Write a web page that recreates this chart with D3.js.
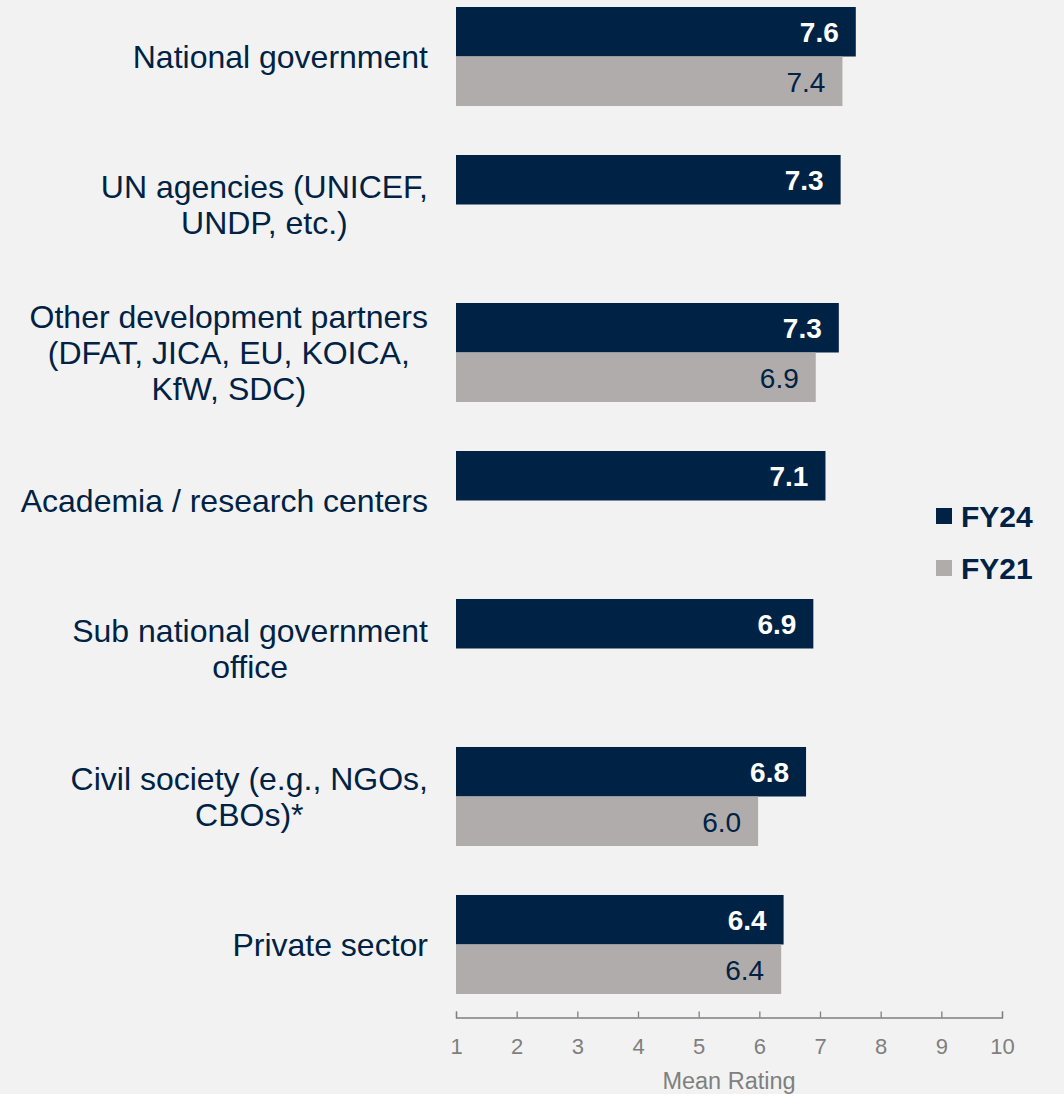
<!DOCTYPE html>
<html>
<head>
<meta charset="utf-8">
<script src="https://cdn.jsdelivr.net/npm/d3@7"></script>
<style>
    body { margin: 0; background: #f2f2f2; }
    svg { display: block; font-family: "Liberation Sans", Arial, sans-serif; }
</style>
</head>
<body>
<script>
//chart data
var categories = [
    "National government",
    "UN agencies (UNICEF,\nUNDP, etc.)",
    "Other development partners\n(DFAT, JICA, EU, KOICA,\nKfW, SDC)",
    "Academia / research centers",
    "Sub national government\noffice",
    "Civil society (e.g., NGOs,\nCBOs)*",
    "Private sector"
];
var series = ["FY24", "FY21"];
var fy24 = [7.59, 7.34, 7.31, 7.09, 6.89, 6.77, 6.40];
var fy21 = [7.37, null, 6.93, null, null, 5.98, 6.36];
var tickValues = [1, 2, 3, 4, 5, 6, 7, 8, 9, 10];
var axisTitle = "Mean Rating";

window.onload = drawChart();

function drawChart(){
    var width = 1064,
        height = 1094;

    var navy = "#002244",
        grey = "#b0acab",
        axisGrey = "#7f7f7f";

    var svg = d3.select("body")
        .append("svg")
        .attr("width", width)
        .attr("height", height);

    svg.append("rect")
        .attr("width", width)
        .attr("height", height)
        .attr("fill", "#f2f2f2");

    //scales
    var x = d3.scaleLinear()
        .domain([1, 10])
        .range([456, 1002]);

    var y = d3.scaleBand()
        .domain(categories)
        .range([7, 994])
        .paddingInner(0.331)
        .paddingOuter(0);

    var ySub = d3.scaleBand()
        .domain(series)
        .range([0, y.bandwidth()]);

    //flatten the values into one list of bars
    var bars = [];
    categories.forEach(function(c, i){
        if (fy24[i] != null) bars.push({cat: c, key: "FY24", value: fy24[i]});
        if (fy21[i] != null) bars.push({cat: c, key: "FY21", value: fy21[i]});
    });

    var color = d3.scaleOrdinal().domain(series).range([navy, grey]);

    svg.selectAll(".bar")
        .data(bars)
        .enter()
        .append("rect")
        .attr("class", "bar")
        .attr("x", x(1))
        .attr("y", function(d){ return y(d.cat) + ySub(d.key); })
        .attr("width", function(d){ return x(d.value) - x(1); })
        .attr("height", ySub.bandwidth())
        .attr("fill", function(d){ return color(d.key); });

    //value labels inside bars
    svg.selectAll(".val")
        .data(bars)
        .enter()
        .append("text")
        .attr("class", "val")
        .attr("x", function(d){ return x(d.value) - 17; })
        .attr("y", function(d){ return y(d.cat) + ySub(d.key) + ySub.bandwidth() / 2 + 10.5; })
        .attr("text-anchor", "end")
        .attr("font-size", 28)
        .attr("font-weight", function(d){ return d.key == "FY24" ? "bold" : "normal"; })
        .attr("fill", function(d){ return d.key == "FY24" ? "#ffffff" : navy; })
        .text(function(d){ return d3.format(".1f")(d.value); });

    //category labels: lines centred on each other, block right-aligned
    var lineHeight = 36,
        labelRight = 428;
    var labels = svg.selectAll(".cat")
        .data(categories)
        .enter()
        .append("text")
        .attr("class", "cat")
        .attr("text-anchor", "middle")
        .attr("font-size", 32)
        .attr("fill", navy);

    labels.each(function(c){
        var lines = c.split("\n");
        var mid = y(c) + y.bandwidth() / 2;
        var spans = d3.select(this).selectAll("tspan")
            .data(lines)
            .enter()
            .append("tspan")
            .attr("y", function(l, i){ return mid + (i - (lines.length - 1) / 2) * lineHeight + 11.5; })
            .text(function(l){ return l; });
        var maxW = 0;
        spans.each(function(){ maxW = Math.max(maxW, this.getComputedTextLength()); });
        spans.attr("x", labelRight - maxW / 2);
    });

    //x axis
    var axisY = 1017.5;
    var axis = svg.append("g")
        .attr("transform", "translate(0," + axisY + ")")
        .call(d3.axisBottom(x)
            .tickValues(tickValues)
            .tickSizeInner(-6)
            .tickSizeOuter(-6)
            .tickPadding(0)
            .tickFormat(d3.format("d")));

    axis.select(".domain")
        .attr("stroke", axisGrey)
        .attr("stroke-width", 1.3);
    axis.selectAll(".tick line")
        .attr("stroke", axisGrey)
        .attr("stroke-width", 1.3);
    axis.selectAll(".tick text")
        .attr("y", 36.5)
        .attr("dy", null)
        .attr("fill", axisGrey)
        .attr("font-size", 22)
        .attr("font-family", "Liberation Sans, Arial, sans-serif");

    svg.append("text")
        .attr("x", (x(1) + x(10)) / 2)
        .attr("y", 1089)
        .attr("text-anchor", "middle")
        .attr("font-size", 23.5)
        .attr("fill", axisGrey)
        .text(axisTitle);

    //legend
    var legend = svg.selectAll(".legend")
        .data(series)
        .enter()
        .append("g")
        .attr("class", "legend")
        .attr("transform", function(d, i){ return "translate(936," + (508 + i * 52) + ")"; });

    legend.append("rect")
        .attr("width", 16)
        .attr("height", 16)
        .attr("fill", function(d){ return color(d); });

    legend.append("text")
        .attr("x", 25)
        .attr("y", 18.5)
        .attr("font-size", 30)
        .attr("font-weight", "bold")
        .attr("fill", navy)
        .text(function(d){ return d; });
};
</script>
</body>
</html>
